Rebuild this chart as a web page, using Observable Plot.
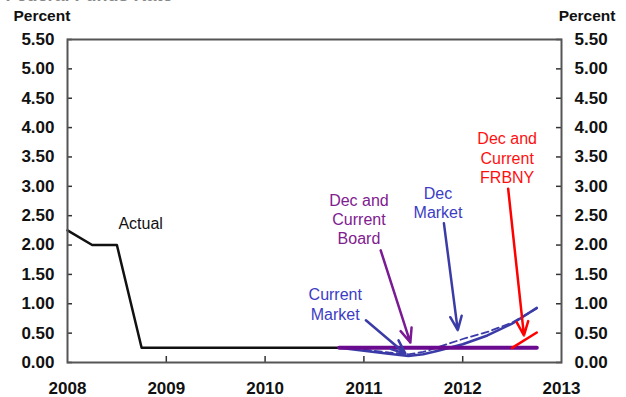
<!DOCTYPE html>
<html>
<head>
<meta charset="utf-8">
<script src="https://cdn.jsdelivr.net/npm/d3@7"></script>
<script src="https://cdn.jsdelivr.net/npm/@observablehq/plot@0.6"></script>
<style>
  html, body { margin: 0; padding: 0; background: #fff; }
  #chart { width: 626px; height: 397px; overflow: hidden; }
</style>
</head>
<body>
<div id="chart"></div>
<script>
// ---- data ----
const yearTicks = [2008, 2009, 2010, 2011, 2012, 2013];
const innerYearTicks = [2009, 2010, 2011, 2012];
const rateTicks = [0, 0.5, 1, 1.5, 2, 2.5, 3, 3.5, 4, 4.5, 5, 5.5];

const actualX = [2008.0, 2008.25, 2008.5, 2008.75, 2010.75];
const actualY = [2.25, 2.0, 2.0, 0.25, 0.25];

const boardX = [2010.75, 2012.75];
const boardY = [0.25, 0.25];

const currentMarketX = [2010.75, 2011.0, 2011.25, 2011.45, 2011.6, 2011.75, 2012.0, 2012.25, 2012.5, 2012.75];
const currentMarketY = [0.25, 0.2, 0.15, 0.11, 0.14, 0.2, 0.31, 0.46, 0.66, 0.93];

const decMarketX = [2011.0, 2011.25, 2011.45, 2011.6, 2011.75, 2012.0, 2012.25, 2012.5, 2012.75];
const decMarketY = [0.22, 0.17, 0.14, 0.18, 0.26, 0.4, 0.52, 0.68, 0.92];

const frbnyX = [2012.5, 2012.75];
const frbnyY = [0.25, 0.51];

const labelText = ["Actual", "Current\nMarket", "Dec and\nCurrent\nBoard", "Dec\nMarket", "Dec and\nCurrent\nFRBNY"];
const labelX = [2008.74, 2010.71, 2010.95, 2011.75, 2012.45];
const labelY = [2.38, 1.0, 2.45, 2.72, 3.49];
const labelColor = ["#111111", "#3c3cc4", "#80208f", "#3c3cc4", "#ff1010"];

const pointerX1 = [2011.02, 2011.17, 2011.81, 2012.46];
const pointerY1 = [0.72, 1.91, 2.37, 2.96];
const pointerX2 = [2011.42, 2011.47, 2011.95, 2012.62];
const pointerY2 = [0.15, 0.34, 0.55, 0.46];
const pointerColor = ["#3b3ba8", "#7a1a94", "#3b3ba8", "#ff0000"];

// ---- tables ----
const toPts = (xs, ys) => xs.map((x, i) => ({x, y: ys[i]}));
const labels = labelText.map((t, i) => ({t, x: labelX[i], y: labelY[i], c: labelColor[i]}));
const pointers = pointerX1.map((x1, i) => ({x1, y1: pointerY1[i], x2: pointerX2[i], y2: pointerY2[i], c: pointerColor[i]}));

const chart = Plot.plot({
  width: 626,
  height: 397,
  marginLeft: 67,
  marginRight: 65,
  marginTop: 39,
  marginBottom: 35,
  style: {fontFamily: "'Liberation Sans', Arial, sans-serif", fontSize: "17px", fontWeight: "bold", color: "#111", background: "#fff"},
  x: {domain: [2008, 2013], axis: null},
  y: {domain: [0, 5.5], axis: null},
  marks: [
    Plot.text(["Federal Funds Rate"], {frameAnchor: "top-left", dx: -62, dy: -39, lineAnchor: "bottom", textAnchor: "start", fill: "#888", fontSize: 18, fontWeight: "bold"}),
    Plot.axisX({ticks: yearTicks, tickFormat: d3.format("d"), tickSize: 0, tickPadding: 19, anchor: "bottom", label: null, fill: "#111"}),
    Plot.axisX({ticks: innerYearTicks, tickFormat: () => "", tickSize: -6, anchor: "bottom", label: null, stroke: "#333", strokeWidth: 1.5}),
    Plot.axisY({ticks: rateTicks, tickFormat: d3.format(".2f"), tickSize: -5, tickPadding: 18, anchor: "left", label: null, stroke: "#333", strokeWidth: 1.5, fill: "#111"}),
    Plot.axisY({ticks: rateTicks, tickFormat: d3.format(".2f"), tickSize: -6, tickPadding: 19, anchor: "right", label: null, stroke: "#333", strokeWidth: 1.5, fill: "#111"}),
    Plot.text(["Percent"], {frameAnchor: "top-left", dx: -54, dy: -30, lineAnchor: "top", textAnchor: "start", fill: "#111", fontSize: 15.5, fontWeight: "bold"}),
    Plot.text(["Percent"], {frameAnchor: "top-right", dx: 54, dy: -30, lineAnchor: "top", textAnchor: "end", fill: "#111", fontSize: 15.5, fontWeight: "bold"}),
    Plot.line(toPts(actualX, actualY), {x: "x", y: "y", stroke: "#111", strokeWidth: 2.5}),
    Plot.line(toPts(currentMarketX, currentMarketY), {x: "x", y: "y", stroke: "#3b3ba8", strokeWidth: 2.5}),
    Plot.line(toPts(decMarketX, decMarketY), {x: "x", y: "y", stroke: "#3b3ba8", strokeWidth: 1.8, strokeDasharray: "7,4"}),
    Plot.line(toPts(boardX, boardY), {x: "x", y: "y", stroke: "#6a0a8e", strokeWidth: 4}),
    Plot.line(toPts(frbnyX, frbnyY), {x: "x", y: "y", stroke: "#ff0000", strokeWidth: 2.5}),
    Plot.arrow(pointers, {x1: "x1", y1: "y1", x2: "x2", y2: "y2", stroke: "c", strokeWidth: 2.5, headLength: 9, headAngle: 45}),
    Plot.text(labels, {x: "x", y: "y", text: "t", fill: "c", fontSize: 16, fontWeight: "normal", lineHeight: 1.2}),
    Plot.frame({stroke: "#555", strokeWidth: 2})
  ]
});
document.getElementById("chart").appendChild(chart);
</script>
</body>
</html>
